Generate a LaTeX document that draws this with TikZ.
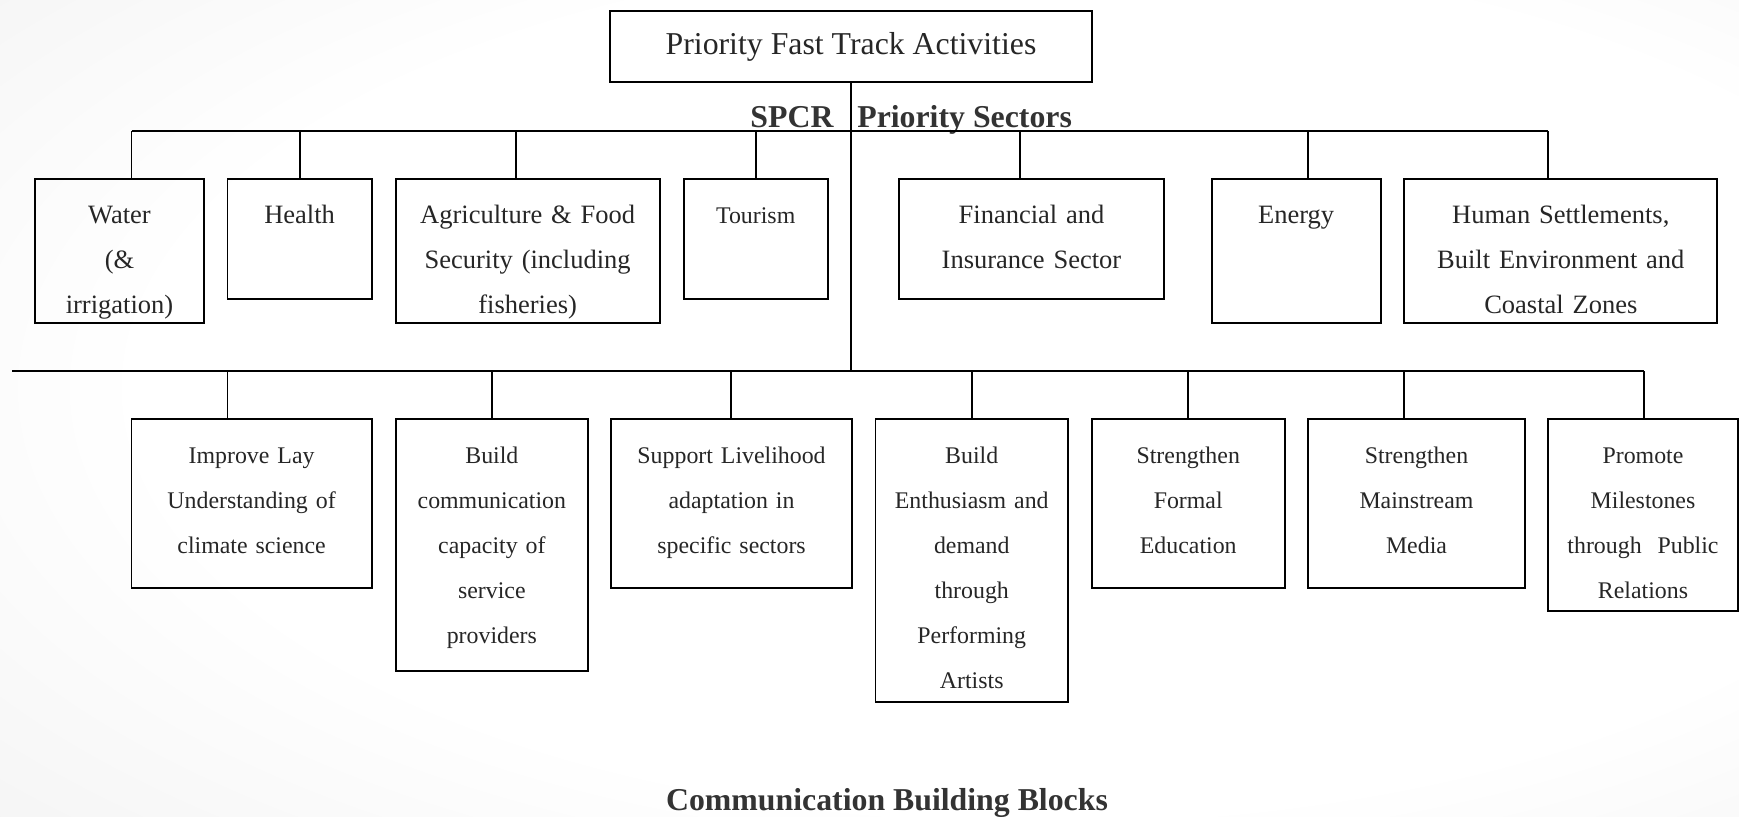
\documentclass[tikz,border=0pt]{standalone}
\usepackage{fontspec}
\setmainfont{Liberation Serif}
\usetikzlibrary{positioning, fit}

% soft slide background, white towards the middle
\pgfdeclareradialshading{slide}{\pgfpoint{8bp}{2bp}}{%
  color(0bp)=(white); color(26bp)=(white);
  color(50bp)=(black!7); color(75bp)=(black!12)}

\tikzset{%
  sector/.style={
    draw, line width=0.9pt, inner sep=0pt},
  boxtext/.style={
    anchor=base, yshift=-20.7pt, text width=140pt, align=center,
    text=black!85, font=\fontsize{12}{20.4}\selectfont},
  smalltext/.style={
    boxtext, font=\fontsize{10.8}{20.4}\selectfont},
  titletext/.style={
    text=black!85, yshift=-0.4pt, font=\fontsize{14.4}{17}\selectfont},
  heading/.style={
    inner sep=0pt, text=black!80, font=\fontsize{14.4}{17}\selectfont\bfseries},
  link/.style={
    draw, line width=0.9pt}
}

\begin{document}
\begin{tikzpicture}[x=0.4528pt, y=-0.4528pt]
    \useasboundingbox (0,0) rectangle (1739,817);
    \shade[shading=slide] (0,0) rectangle (1739,817);

    \node[sector, fit={(610,11) (1092,82)},
      label={[titletext]center:Priority Fast Track Activities}] (fast) {};
    \node[heading, anchor=base west] (spcr) at (750,127) {SPCR\ \ \ Priority Sectors};

    % priority sectors
    \node[sector, fit={(35,179) (204,323)},
      label={[boxtext]north:Water\\(\&\\irrigation)}] (water) {};
    \node[sector, fit={(227.5,179) (371.7,299)},
      label={[boxtext]north:Health}] (health) {};
    \node[sector, fit={(395.6,179) (659.7,323)},
      label={[boxtext]north:Agriculture \& Food\\Security (including\\fisheries)}] (agri) {};
    \node[sector, fit={(683.6,179) (827.8,299)},
      label={[smalltext]north:Tourism}] (tourism) {};
    \node[sector, fit={(899,179) (1164,299)},
      label={[boxtext]north:Financial and\\Insurance Sector}] (finance) {};
    \node[sector, fit={(1211.8,179) (1380.5,323)},
      label={[boxtext]north:Energy}] (energy) {};
    \node[sector, fit={(1404.3,179) (1717.3,323)},
      label={[boxtext]north:Human Settlements,\\Built Environment and\\Coastal Zones}] (human) {};

    % communication building blocks
    \node[sector, fit={(131.5,419) (371.7,587.7)},
      label={[smalltext]north:Improve Lay\\Understanding of\\climate science}] (lay) {};
    \node[sector, fit={(395.6,419) (588.1,671.3)},
      label={[smalltext]north:Build\\communication\\capacity of\\service\\providers}] (capacity) {};
    \node[sector, fit={(611.4,419) (851.7,587.7)},
      label={[smalltext]north:Support Livelihood\\adaptation in\\specific sectors}] (livelihood) {};
    \node[sector, fit={(875.5,419) (1068,701.7)},
      label={[smalltext]north:Build\\Enthusiasm and\\demand\\through\\Performing\\Artists}] (artists) {};
    \node[sector, fit={(1092,419) (1284.5,587.7)},
      label={[smalltext]north:Strengthen\\Formal\\Education}] (education) {};
    \node[sector, fit={(1308.3,419) (1524.7,587.7)},
      label={[smalltext]north:Strengthen\\Mainstream\\Media}] (media) {};
    \node[sector, fit={(1548,419) (1738,610.7)},
      label={[smalltext]north:Promote\\Milestones\\through\ \ Public\\Relations}] (relations) {};

    \node[heading, anchor=base] (blocks) at (887,810) {Communication Building Blocks};

    % bus lines and drops
    \foreach \name/\x in {water/131.5, health/299.6, agri/516, tourism/755.7,
                          finance/1019.8, energy/1308.3, human/1548}
      \draw[link] (\x,131) coordinate (\name-tap) -- (\name-tap |- \name.north);
    \foreach \name/\x in {lay/227.5, capacity/491.6, livelihood/731.3, artists/971.5,
                          education/1188, media/1404.3, relations/1644}
      \draw[link] (\x,371) coordinate (\name-tap) -- (\name-tap |- \name.north);
    \coordinate (lowbus) at (12,371);

    \draw[link]
      (water-tap) -- (human-tap)
      (lowbus) -- (relations-tap)
      (fast.south) -- (fast.south |- lowbus)
    ;

\end{tikzpicture}
\end{document}
